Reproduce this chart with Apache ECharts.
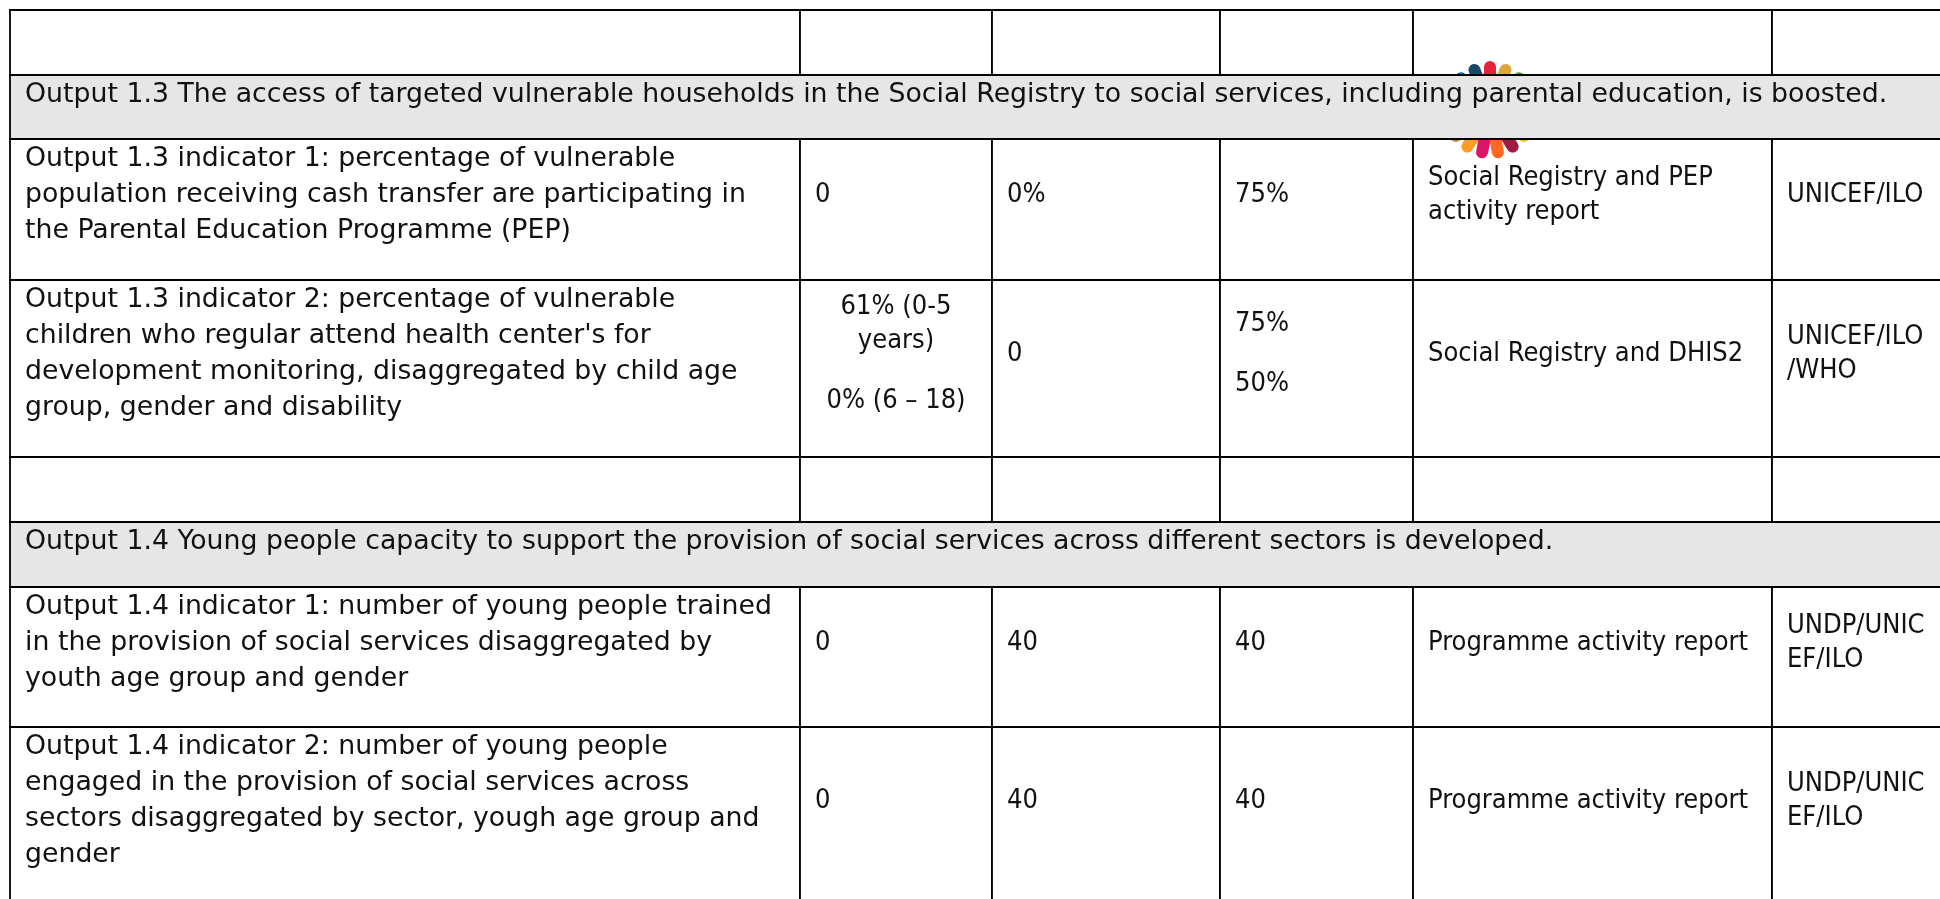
<!DOCTYPE html>
<html><head><meta charset="utf-8">
<script src="https://cdn.jsdelivr.net/npm/echarts@6/dist/echarts.min.js"></script>
<style>html,body{margin:0;padding:0;background:#fff;overflow:hidden}#c{width:1940px;height:899px}</style>
</head><body><div id="c"></div>
<script>
// ---- content ----
const outputTitles = [
  'Output 1.3 The access of targeted vulnerable households in the Social Registry to social services, including parental education, is boosted.',
  'Output 1.4 Young people capacity to support the provision of social services across different sectors is developed.'
];
const indicators = [
  'Output 1.3 indicator 1: percentage of vulnerable\npopulation receiving cash transfer are participating in\nthe Parental Education Programme (PEP)',
  'Output 1.3 indicator 2: percentage of vulnerable\nchildren who regular attend health center\'s for\ndevelopment monitoring, disaggregated by child age\ngroup, gender and disability',
  'Output 1.4 indicator 1: number of young people trained\nin the provision of social services disaggregated by\nyouth age group and gender',
  'Output 1.4 indicator 2: number of young people\nengaged in the provision of social services across\nsectors disaggregated by sector, yough age group and\ngender'
];
const baselines = ['0', '61% (0-5\nyears)\n\n0% (6 \u2013 18)', '0', '0'];
const milestones = ['0%', '0', '40', '40'];
const targets = ['75%', '75%\n\n50%', '40', '40'];
const sources = ['Social Registry and PEP\nactivity report', 'Social Registry and DHIS2', 'Programme activity report', 'Programme activity report'];
const agencies = ['UNICEF/ILO', 'UNICEF/ILO\n/WHO', 'UNDP/UNIC\nEF/ILO', 'UNDP/UNIC\nEF/ILO'];
const sdgColors = ['#E5243B','#DDA63A','#4C9F38','#C5192D','#FF3A21','#26BDE2','#FCC30B','#A21942','#FD6925','#DD1367','#FD9D24','#BF8B2E','#3F7E44','#0A97D9','#56C02B','#00689D','#19486A'];

// ---- layout / style (kept apart from content) ----
const colEdges = [10, 800, 992, 1220, 1413, 1772, 1960];
const rowEdges = [10, 75, 139, 280, 457, 522, 587, 727, 910];
const rowKinds = ['blank','title','ind','ind','blank','title','ind','ind'];
const baselineAlign = ['left','center','left','left'];
const mainFont = '26.75px "DejaVu Sans"';
const cellFont = '27px "DejaVu Sans Condensed", "DejaVu Sans"';
const mainLH = 36, cellLH = 34, gapLH = 26, padX = 15;
const logo = {cx: 1490, cy: 110, r1: 31, r2: 43, w: 12};

function toRich(text, key) {
  return text.split('\n').map(l => l === '' ? '{g| }' : '{' + key + '|' + l + '}').join('\n');
}

const plainCells = [], titleCells = [];
let ti = 0, ii = 0;
rowKinds.forEach((kind, r) => {
  const y0 = rowEdges[r], y1 = rowEdges[r + 1];
  if (kind === 'title') {
    titleCells.push({x0: colEdges[0], x1: colEdges[colEdges.length - 1], y0, y1, fill: '#e6e6e6',
      text: outputTitles[ti++], tx: colEdges[0] + padX, ty: y0 + 20, va: 'middle', align: 'left', key: 'm'});
    return;
  }
  const texts = kind === 'ind'
    ? [indicators[ii], baselines[ii], milestones[ii], targets[ii], sources[ii], agencies[ii]]
    : ['', '', '', '', '', ''];
  const n = kind === 'ind' ? indicators[ii].split('\n').length : 1;
  const midY = y0 + 2 + n * mainLH / 2;
  for (let c = 0; c < colEdges.length - 1; c++) {
    const x0 = colEdges[c], x1 = colEdges[c + 1];
    const cell = {x0, x1, y0, y1, fill: '#ffffff', text: texts[c], key: c === 0 ? 'm' : 'a'};
    if (c === 0) { cell.tx = x0 + padX; cell.ty = y0 + 2; cell.va = 'top'; cell.align = 'left'; }
    else {
      const al = (c === 1 && kind === 'ind') ? baselineAlign[ii] : 'left';
      cell.align = al; cell.tx = al === 'center' ? (x0 + x1) / 2 : x0 + padX; cell.ty = midY; cell.va = 'middle';
    }
    plainCells.push(cell);
  }
  if (kind === 'ind') ii++;
});

function cellRenderer(list) {
  return function (params, api) {
    const c = list[params.dataIndex];
    const p0 = api.coord([api.value(0), api.value(1)]);
    const p1 = api.coord([api.value(2), api.value(3)]);
    const ch = [
      {type: 'rect', shape: {x: p0[0], y: p0[1], width: p1[0] - p0[0], height: p1[1] - p0[1]}, style: {fill: c.fill}},
      {type: 'line', shape: {x1: p0[0] - 1, y1: p0[1], x2: p1[0] + 1, y2: p0[1]}, style: {stroke: '#000', lineWidth: 2.2}},
      {type: 'line', shape: {x1: p0[0] - 1, y1: p1[1], x2: p1[0] + 1, y2: p1[1]}, style: {stroke: '#000', lineWidth: 2.2}},
      {type: 'line', shape: {x1: p0[0], y1: p0[1], x2: p0[0], y2: p1[1]}, style: {stroke: '#000', lineWidth: 1.8}},
      {type: 'line', shape: {x1: p1[0], y1: p0[1], x2: p1[0], y2: p1[1]}, style: {stroke: '#000', lineWidth: 1.8}}
    ];
    if (c.text) {
      const f = c.key === 'm' ? mainFont : cellFont;
      const lh = c.key === 'm' ? mainLH : cellLH;
      const rich = {}; rich[c.key] = {font: f, lineHeight: lh, fill: '#111'}; rich.g = {font: f, lineHeight: gapLH};
      ch.push({type: 'text', style: {text: toRich(c.text, c.key), x: c.tx, y: c.ty, align: c.align, verticalAlign: c.va, font: f, fill: '#111', rich}});
    }
    return {type: 'group', children: ch};
  };
}

const chart = echarts.init(document.getElementById('c'), null, {renderer: 'canvas'});
chart.setOption({
  animation: false,
  backgroundColor: '#ffffff',
  grid: {left: 0, right: 0, top: 0, bottom: 0},
  xAxis: {type: 'value', min: 0, max: 1940, show: false},
  yAxis: {type: 'value', min: 0, max: 899, inverse: true, show: false},
  series: [
    {type: 'custom', z: 1, clip: true, renderItem: cellRenderer(plainCells),
      data: plainCells.map(c => [c.x0, c.y0, c.x1, c.y1])},
    {type: 'custom', z: 2, renderItem: function (params, api) {
        const i = api.value(0), n = sdgColors.length, a = i * 2 * Math.PI / n;
        const cp = api.coord([logo.cx, logo.cy]);
        const s = Math.sin(a), co = -Math.cos(a);
        return {type: 'line', shape: {x1: cp[0] + s * logo.r1, y1: cp[1] + co * logo.r1, x2: cp[0] + s * logo.r2, y2: cp[1] + co * logo.r2},
          style: {stroke: sdgColors[i], lineWidth: logo.w, lineCap: 'round'}};
      }, data: sdgColors.map((c, i) => [i])},
    {type: 'custom', z: 3, clip: true, renderItem: cellRenderer(titleCells),
      data: titleCells.map(c => [c.x0, c.y0, c.x1, c.y1])}
  ]
});
</script></body></html>
